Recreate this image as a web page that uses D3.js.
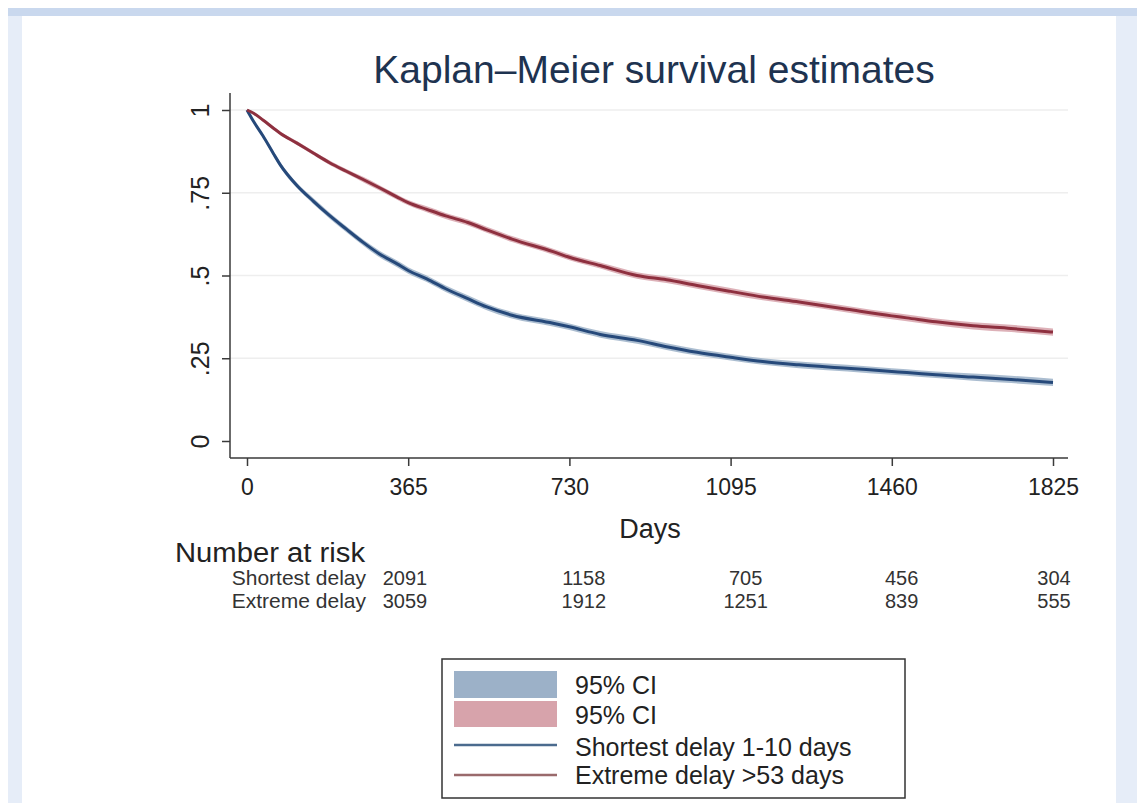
<!DOCTYPE html>
<html>
<head>
<meta charset="utf-8">
<script src="https://cdn.jsdelivr.net/npm/d3@7"></script>
<style>
  html, body { margin: 0; padding: 0; background: #ffffff; }
  svg { display: block; font-family: "Liberation Sans", Arial, sans-serif; }
</style>
</head>
<body>
<svg id="chart" width="1137" height="803"></svg>
<script>
// ---------------- data ----------------
const days = [0, 15, 36, 60, 75, 113, 150, 188, 225, 263, 300, 340, 365, 407, 450, 500, 543, 600, 693, 730, 800, 883, 950, 1019, 1095, 1168, 1250, 1359, 1460, 1494, 1560, 1644, 1730, 1825];
const survShortest = [1.0, 0.965, 0.922, 0.868, 0.835, 0.772, 0.725, 0.68, 0.64, 0.60, 0.565, 0.535, 0.515, 0.49, 0.46, 0.43, 0.405, 0.38, 0.356, 0.345, 0.322, 0.304, 0.285, 0.268, 0.253, 0.24, 0.23, 0.22, 0.21, 0.207, 0.2, 0.193, 0.186, 0.177];
const survExtreme = [1.0, 0.99, 0.97, 0.945, 0.93, 0.9, 0.87, 0.84, 0.815, 0.79, 0.765, 0.737, 0.72, 0.70, 0.68, 0.66, 0.638, 0.61, 0.572, 0.555, 0.53, 0.5, 0.487, 0.47, 0.452, 0.435, 0.42, 0.398, 0.378, 0.372, 0.36, 0.348, 0.34, 0.329];
const ciHalfShortest = [0, 0.004, 0.006, 0.007, 0.008, 0.008, 0.009, 0.009, 0.009, 0.009, 0.01, 0.01, 0.01, 0.01, 0.01, 0.01, 0.01, 0.01, 0.01, 0.01, 0.01, 0.01, 0.01, 0.01, 0.01, 0.01, 0.01, 0.01, 0.01, 0.01, 0.01, 0.011, 0.011, 0.011];
const ciHalfExtreme = [0, 0.003, 0.004, 0.005, 0.005, 0.006, 0.006, 0.007, 0.007, 0.008, 0.008, 0.008, 0.008, 0.009, 0.009, 0.009, 0.009, 0.009, 0.009, 0.009, 0.009, 0.01, 0.01, 0.01, 0.01, 0.01, 0.01, 0.01, 0.01, 0.01, 0.01, 0.011, 0.011, 0.011];

const xTicks = [0, 365, 730, 1095, 1460, 1825];
const yTicks = [0, 0.25, 0.5, 0.75, 1];
const yTickLabels = ["0", ".25", ".5", ".75", "1"];

const riskTimes = [0, 365, 730, 1095, 1460];
const riskGroups = ["Shortest delay", "Extreme delay"];
const riskShortest = [2091, 1158, 705, 456, 304];
const riskExtreme = [3059, 1912, 1251, 839, 555];

const titleText = "Kaplan\u2013Meier survival estimates";
const xTitle = "Days";
const riskTitle = "Number at risk";
const legendLabels = ["95% CI", "95% CI", "Shortest delay 1-10 days", "Extreme delay >53 days"];

// ---------------- styling ----------------
const C = {
  blueLine: "#26497a", redLine: "#8e303f",
  blueCI: "#9cb1c8", redCI: "#d7a3ab",
  blueLegLine: "#4b6b8e", redLegLine: "#9a6a6c",
  axis: "#3a3a3a", grid: "#eeeeee", text: "#222222", title: "#1e3350"
};

const svg = d3.select("#chart");

// page frame (light blue borders of the screenshot)
svg.append("rect").attr("x", 0).attr("y", 0).attr("width", 1137).attr("height", 803).attr("fill", "#ffffff");
svg.append("rect").attr("x", 8).attr("y", 8).attr("width", 1129).attr("height", 795).attr("fill", "#e6edf8");
svg.append("rect").attr("x", 8).attr("y", 8).attr("width", 1129).attr("height", 8).attr("fill", "#c9d8ee");
svg.append("rect").attr("x", 22).attr("y", 16).attr("width", 1094).attr("height", 787).attr("fill", "#ffffff");

// scales
const x = d3.scaleLinear().domain([0, 1825]).range([247, 1053]);
const y = d3.scaleLinear().domain([0, 1]).range([441, 110]);
const plotLeft = 230, plotRight = 1068, axisY = 458, plotTop = 93;

// gridlines
svg.append("g").selectAll("line").data(yTicks.filter(d => d > 0)).join("line")
  .attr("x1", plotLeft).attr("x2", plotRight)
  .attr("y1", d => y(d)).attr("y2", d => y(d))
  .attr("stroke", C.grid).attr("stroke-width", 1.5);

// Y axis
const yAxis = d3.axisLeft(y).tickValues(yTicks).tickFormat((d, i) => yTickLabels[i]).tickSize(8).tickSizeOuter(0);
const gy = svg.append("g").attr("transform", `translate(${plotLeft},0)`).call(yAxis);
gy.select(".domain").remove();
gy.append("line").attr("x1", 0).attr("x2", 0).attr("y1", plotTop).attr("y2", axisY).attr("stroke", C.axis).attr("stroke-width", 1.5);
gy.selectAll(".tick line").attr("stroke", C.axis).attr("stroke-width", 1.5);
gy.selectAll(".tick text")
  .attr("x", null).attr("dy", null)
  .attr("transform", "translate(-21,0) rotate(-90)")
  .attr("text-anchor", "middle")
  .attr("font-size", 25).attr("fill", C.text)
  .attr("font-family", "Liberation Sans, Arial, sans-serif");

// X axis
const xAxis = d3.axisBottom(x).tickValues(xTicks).tickFormat(d3.format("d")).tickSize(8).tickSizeOuter(0);
const gx = svg.append("g").attr("transform", `translate(0,${axisY})`).call(xAxis);
gx.select(".domain").remove();
gx.append("line").attr("x1", plotLeft).attr("x2", plotRight).attr("y1", 0).attr("y2", 0).attr("stroke", C.axis).attr("stroke-width", 1.5);
gx.selectAll(".tick line").attr("stroke", C.axis).attr("stroke-width", 1.5);
gx.selectAll(".tick text").attr("y", 37).attr("dy", null)
  .attr("font-size", 23).attr("fill", C.text)
  .attr("font-family", "Liberation Sans, Arial, sans-serif");

// axis title
svg.append("text").attr("x", x(912.5)).attr("y", 538).attr("text-anchor", "middle")
  .attr("font-size", 27).attr("fill", C.text).text(xTitle);

// title
svg.append("text").attr("x", 654).attr("y", 83).attr("text-anchor", "middle")
  .attr("font-size", 39).attr("fill", C.title).text(titleText);

// series
const series = [
  { s: survShortest, ci: ciHalfShortest, line: C.blueLine, fill: C.blueCI },
  { s: survExtreme, ci: ciHalfExtreme, line: C.redLine, fill: C.redCI }
];
const area = d3.area().x(d => x(d.t)).y0(d => y(d.v - d.h)).y1(d => y(d.v + d.h)).curve(d3.curveMonotoneX);
const line = d3.line().x(d => x(d.t)).y(d => y(d.v)).curve(d3.curveMonotoneX);
series.forEach(sr => {
  const pts = days.map((t, i) => ({ t, v: sr.s[i], h: sr.ci[i] }));
  svg.append("path").datum(pts).attr("d", area).attr("fill", sr.fill).attr("opacity", 0.85);
  svg.append("path").datum(pts).attr("d", line).attr("fill", "none")
    .attr("stroke", sr.line).attr("stroke-width", 3).attr("stroke-linejoin", "round");
});

// number at risk table
svg.append("text").attr("x", 175).attr("y", 562).attr("font-size", 27)
  .attr("textLength", 190).attr("lengthAdjust", "spacingAndGlyphs")
  .attr("fill", C.text).text(riskTitle);
const riskScale = d3.scalePow().exponent(0.93).domain([0, 1460]).range([405, 1054]);
const riskRows = [riskShortest, riskExtreme];
const rowY = [585, 608];
riskGroups.forEach((g, r) => {
  svg.append("text").attr("x", 366).attr("y", rowY[r]).attr("text-anchor", "end")
    .attr("font-size", 21).attr("fill", "#333").text(g);
  svg.append("g").selectAll("text").data(riskRows[r]).join("text")
    .attr("x", (d, i) => riskScale(riskTimes[i])).attr("y", rowY[r])
    .attr("text-anchor", "middle").attr("font-size", 20).attr("fill", "#333")
    .text(d => d);
});

// legend
const leg = svg.append("g");
leg.append("rect").attr("x", 442).attr("y", 659).attr("width", 463).attr("height", 139)
  .attr("fill", "#ffffff").attr("stroke", "#333").attr("stroke-width", 1.5);
const legItems = [
  { type: "box", color: C.blueCI, y0: 671, h: 27, ty: 694 },
  { type: "box", color: C.redCI, y0: 701, h: 26, ty: 724 },
  { type: "line", color: C.blueLegLine, y0: 745, ty: 756 },
  { type: "line", color: C.redLegLine, y0: 775, ty: 784 }
];
legItems.forEach((it, i) => {
  if (it.type === "box") {
    leg.append("rect").attr("x", 454).attr("y", it.y0).attr("width", 103).attr("height", it.h).attr("fill", it.color);
  } else {
    leg.append("line").attr("x1", 454).attr("x2", 557).attr("y1", it.y0).attr("y2", it.y0)
      .attr("stroke", it.color).attr("stroke-width", 2.5);
  }
  leg.append("text").attr("x", 575).attr("y", it.ty).attr("font-size", 25).attr("fill", C.text).text(legendLabels[i]);
});
</script>
</body>
</html>
